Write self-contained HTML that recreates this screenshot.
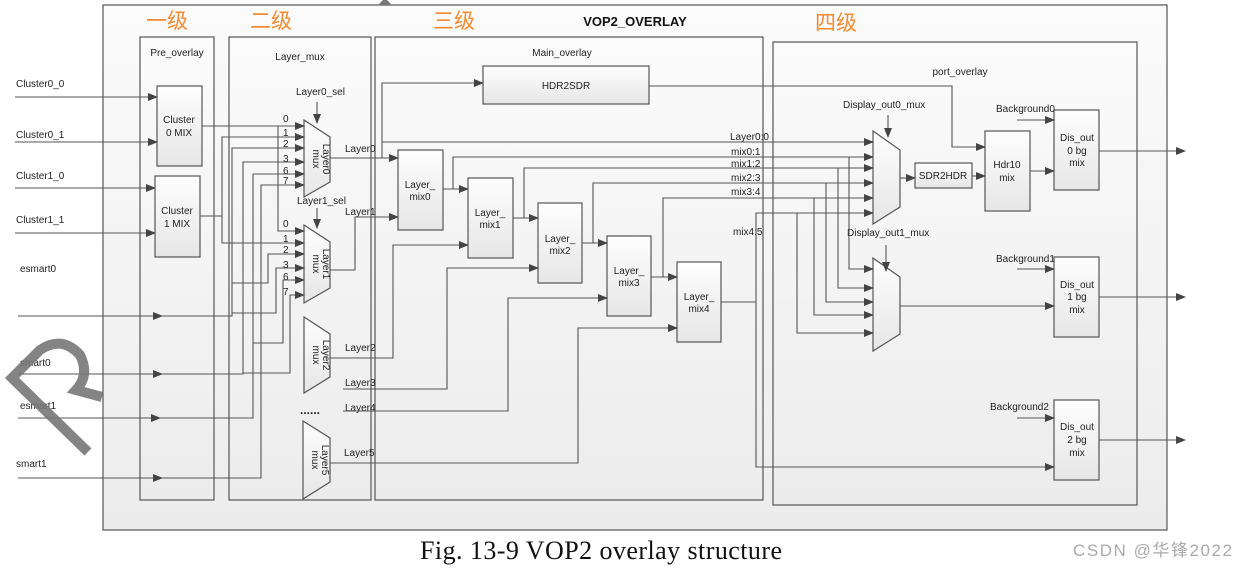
<!DOCTYPE html>
<html><head><meta charset="utf-8"><style>
body{margin:0;background:#fff;width:1247px;height:569px;overflow:hidden}
svg text{font-family:"Liberation Sans",sans-serif;font-size:10px;fill:#222}
</style></head><body>
<svg width="1247" height="569" viewBox="0 0 1247 569" xmlns="http://www.w3.org/2000/svg">
<defs>
<marker id="a" markerWidth="10" markerHeight="8" refX="9" refY="4" orient="auto" markerUnits="userSpaceOnUse"><path d="M0,0 L10,4 L0,8 Z" fill="#444"/></marker>
<linearGradient id="g" x1="0" y1="0" x2="0" y2="1"><stop offset="0" stop-color="#fbfbfb"/><stop offset="1" stop-color="#ececec"/></linearGradient>
<linearGradient id="bx" x1="0" y1="0" x2="0" y2="1"><stop offset="0" stop-color="#fefefe"/><stop offset="1" stop-color="#e6e6e6"/></linearGradient>
</defs>
<g stroke="#555" stroke-width="1.2" fill="none">
<rect x="103" y="5" width="1064" height="525" fill="url(#g)"/>
<rect x="140" y="37" width="74" height="463" fill="url(#g)"/>
<rect x="229" y="37" width="142" height="463" fill="url(#g)"/>
<rect x="375" y="37" width="388" height="463" fill="url(#g)"/>
<rect x="773" y="42" width="364" height="463" fill="url(#g)"/>
</g>
<path d="M378,5 L385,-2 L392,5Z" fill="#777"/>
<text x="146" y="28" style="font-size:21px;fill:#f58a2e;font-family:'Noto Sans CJK SC',sans-serif">一级</text>
<text x="250" y="28" style="font-size:21px;fill:#f58a2e;font-family:'Noto Sans CJK SC',sans-serif">二级</text>
<text x="433" y="28" style="font-size:21px;fill:#f58a2e;font-family:'Noto Sans CJK SC',sans-serif">三级</text>
<text x="815" y="30" style="font-size:21px;fill:#f58a2e;font-family:'Noto Sans CJK SC',sans-serif">四级</text>
<text x="635" y="26" text-anchor="middle" style="font-size:13px;font-weight:bold;fill:#111">VOP2_OVERLAY</text>
<text x="177" y="56" text-anchor="middle">Pre_overlay</text>
<text x="300" y="60" text-anchor="middle">Layer_mux</text>
<text x="562" y="56" text-anchor="middle">Main_overlay</text>
<text x="960" y="75" text-anchor="middle">port_overlay</text>

<g stroke="#555" stroke-width="1.2" fill="url(#bx)">
<rect x="157" y="86" width="45" height="80"/>
<rect x="155" y="176" width="45" height="81"/>
<path d="M304,120 L330,137 L330,182 L304,197Z"/>
<path d="M304,225 L330,242 L330,288 L304,303Z"/>
<path d="M304,317 L330,334 L330,377 L304,393Z"/>
<path d="M303,421 L330,438 L330,482 L303,499Z"/>
<rect x="483" y="66" width="166" height="38"/>
<rect x="398" y="150" width="45" height="80"/>
<rect x="468" y="178" width="45" height="80"/>
<rect x="538" y="203" width="44" height="80"/>
<rect x="607" y="236" width="44" height="80"/>
<rect x="677" y="262" width="44" height="80"/>
<path d="M873,131 L900,150 L900,207 L873,224Z"/>
<path d="M873,258 L900,277 L900,334 L873,351Z"/>
<rect x="915" y="163" width="57" height="25"/>
<rect x="985" y="131" width="45" height="80"/>
<rect x="1054" y="110" width="45" height="80"/>
<rect x="1054" y="257" width="45" height="80"/>
<rect x="1054" y="400" width="45" height="80"/>
</g>
<text x="179" y="123" text-anchor="middle">Cluster</text><text x="179" y="136" text-anchor="middle">0 MIX</text>
<text x="177" y="214" text-anchor="middle">Cluster</text><text x="177" y="227" text-anchor="middle">1 MIX</text>
<text transform="translate(313,159) rotate(90)" text-anchor="middle">mux</text>
<text transform="translate(323,159) rotate(90)" text-anchor="middle">Layer0</text>
<text transform="translate(313,264) rotate(90)" text-anchor="middle">mux</text>
<text transform="translate(323,264) rotate(90)" text-anchor="middle">Layer1</text>
<text transform="translate(313,355) rotate(90)" text-anchor="middle">mux</text>
<text transform="translate(323,355) rotate(90)" text-anchor="middle">Layer2</text>
<text transform="translate(312,460) rotate(90)" text-anchor="middle">mux</text>
<text transform="translate(322,460) rotate(90)" text-anchor="middle">Layer5</text>
<text x="300" y="414" style="font-size:12px;font-weight:bold">......</text>
<text x="566" y="89" text-anchor="middle">HDR2SDR</text>
<text x="420" y="188" text-anchor="middle">Layer_</text><text x="420" y="200" text-anchor="middle">mix0</text>
<text x="490" y="216" text-anchor="middle">Layer_</text><text x="490" y="228" text-anchor="middle">mix1</text>
<text x="560" y="242" text-anchor="middle">Layer_</text><text x="560" y="254" text-anchor="middle">mix2</text>
<text x="629" y="274" text-anchor="middle">Layer_</text><text x="629" y="286" text-anchor="middle">mix3</text>
<text x="699" y="300" text-anchor="middle">Layer_</text><text x="699" y="312" text-anchor="middle">mix4</text>
<text x="943" y="179" text-anchor="middle">SDR2HDR</text>
<text x="1007" y="168" text-anchor="middle">Hdr10</text><text x="1007" y="181" text-anchor="middle">mix</text>
<text x="1077" y="141" text-anchor="middle">Dis_out</text><text x="1077" y="154" text-anchor="middle">0 bg</text><text x="1077" y="166" text-anchor="middle">mix</text>
<text x="1077" y="288" text-anchor="middle">Dis_out</text><text x="1077" y="300" text-anchor="middle">1 bg</text><text x="1077" y="313" text-anchor="middle">mix</text>
<text x="1077" y="430" text-anchor="middle">Dis_out</text><text x="1077" y="443" text-anchor="middle">2 bg</text><text x="1077" y="456" text-anchor="middle">mix</text>

<text x="16" y="87">Cluster0_0</text><text x="16" y="138">Cluster0_1</text>
<text x="16" y="179">Cluster1_0</text><text x="16" y="223">Cluster1_1</text>
<text x="20" y="272">esmart0</text><text x="20" y="366">smart0</text>
<text x="20" y="409">esmart1</text><text x="16" y="467">smart1</text>
<text x="296" y="95">Layer0_sel</text><text x="297" y="204">Layer1_sel</text>
<g style="font-size:10px">
<text x="283" y="122">0</text><text x="283" y="136">1</text><text x="283" y="147">2</text><text x="283" y="162">3</text><text x="283" y="174">6</text><text x="283" y="184">7</text>
<text x="283" y="227">0</text><text x="283" y="242">1</text><text x="283" y="253">2</text><text x="283" y="268">3</text><text x="283" y="280">6</text><text x="283" y="295">7</text>
</g>
<text x="345" y="152">Layer0</text><text x="345" y="215">Layer1</text>
<text x="345" y="351">Layer2</text><text x="345" y="386">Layer3</text>
<text x="345" y="411">Layer4</text><text x="344" y="456">Layer5</text>
<text x="730" y="140">Layer0:0</text><text x="731" y="155">mix0:1</text><text x="731" y="167">mix1:2</text>
<text x="731" y="181">mix2:3</text><text x="731" y="195">mix3:4</text><text x="733" y="235">mix4:5</text>
<text x="843" y="108">Display_out0_mux</text><text x="847" y="236">Display_out1_mux</text>
<text x="996" y="112">Background0</text><text x="996" y="262">Background1</text><text x="990" y="410">Background2</text>

<g stroke="#555" stroke-width="1.1" fill="none" marker-end="url(#a)">
<path d="M15,97 H157"/><path d="M15,142 H157"/><path d="M15,188 H155"/><path d="M15,233 H155"/>
<path d="M18,316 H162"/><path d="M18,374 H162"/><path d="M18,418 H160"/><path d="M18,478 H162"/>
<path d="M202,126 H304"/><path d="M278,126 V231 H304"/>
<path d="M200,216 H222 V137 H304"/><path d="M222,216 V243 H304"/>
<path d="M162,316 H232 V148 H304"/><path d="M162,374 H243 V162 H304"/><path d="M160,418 H253 V174 H304"/><path d="M162,478 H261 V185 H304"/>
<path d="M232,283 H268 V254 H304"/><path d="M232,313 H276 V268 H304"/><path d="M253,343 H283 V280 H304"/><path d="M243,373 H290 V295 H304"/>
<path d="M317,102 V123"/><path d="M317,208 V228"/>
<path d="M330,158 H398"/><path d="M330,270 H355 V217 H398"/>
<path d="M382,158 V83 H483"/>
<path d="M330,358 H393 V245 H468"/><path d="M343,389 H447 V268 H538"/><path d="M343,411 H508 V298 H607"/><path d="M330,463 H578 V328 H677"/>
<path d="M443,189 H468"/><path d="M513,218 H538"/><path d="M582,243 H607"/><path d="M651,277 H677"/>
<path d="M382,142 H873"/><path d="M453,189 V157 H873"/><path d="M524,218 V168 H873"/><path d="M593,243 V183 H873"/><path d="M663,277 V198 H873"/>
<path d="M721,302 H756 V213 H873"/><path d="M756,302 V467 H1054"/>
<path d="M849,157 V269 H873"/><path d="M838,168 V288 H873"/><path d="M826,183 V302 H873"/><path d="M814,198 V315 H873"/><path d="M797,213 V333 H873"/>
<path d="M888,115 V137"/><path d="M886,245 V271"/>
<path d="M900,178 H915"/><path d="M972,176 H985"/>
<path d="M649,86 H952 V147 H985"/>
<path d="M1030,171 H1054"/><path d="M1017,120 H1054"/><path d="M1017,269 H1054"/><path d="M1017,418 H1054"/>
<path d="M900,306 H1054"/>
<path d="M1099,151 H1185"/><path d="M1099,297 H1185"/><path d="M1099,440 H1185"/>
</g>
<path d="M88,452 L12,378 L40,350 Q62,335 80,355 Q90,375 76,390 L102,397" stroke="#777" stroke-width="10" fill="none" opacity="0.9"/>
<text x="420" y="559" textLength="362" style="font-family:'Liberation Serif',serif;font-size:26px;fill:#111">Fig. 13-9 VOP2 overlay structure</text>
<text x="1073" y="556" textLength="159" style="font-family:'Liberation Sans','Noto Sans CJK SC',sans-serif;font-size:17px;fill:#aaa">CSDN @华锋2022</text>
</svg>
</body></html>
